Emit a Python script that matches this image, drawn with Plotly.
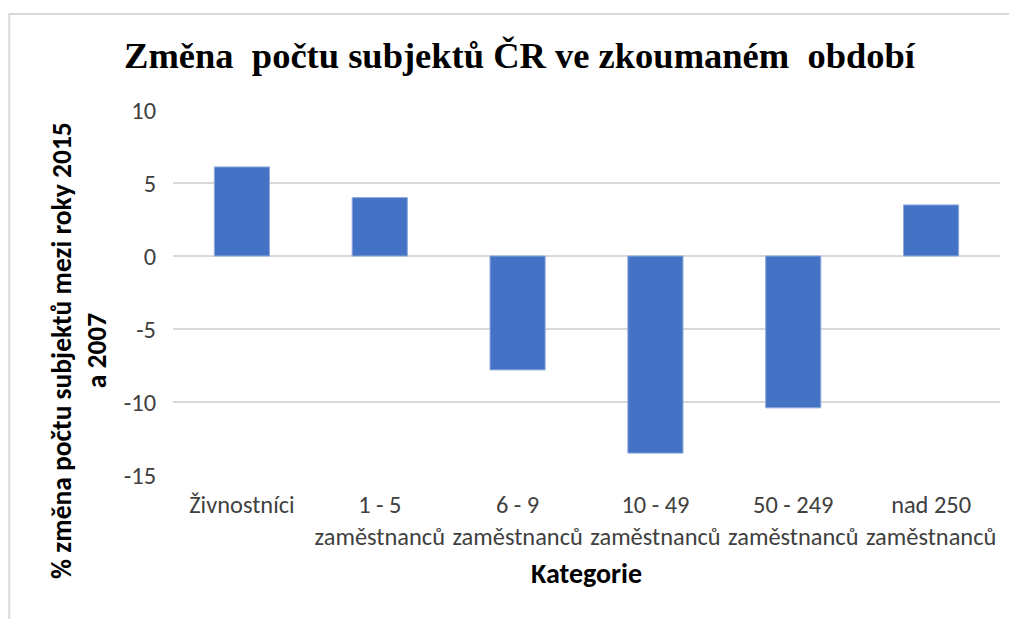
import plotly.graph_objects as go

categories = ["Živnostníci", "1 - 5<br>zaměstnanců", "6 - 9<br>zaměstnanců",
              "10 - 49<br>zaměstnanců", "50 - 249<br>zaměstnanců", "nad 250<br>zaměstnanců"]
values = [6.1, 4.0, -7.8, -13.5, -10.4, 3.5]
y_ticks = [10, 5, 0, -5, -10, -15]

title_text = "Změna  počtu subjektů ČR ve zkoumaném  období"
y_title = "% změna počtu subjektů mezi roky 2015<br>a 2007"
x_title = "Kategorie"

sans = "Carlito, Calibri, Liberation Sans, Arial, sans-serif"

fig = go.Figure()
fig.add_trace(go.Bar(
    x=categories, y=values,
    marker=dict(color="#4472C4", line=dict(color="#8EA9DB", width=1)),
))

fig.update_layout(
    width=1017, height=619,
    margin=dict(l=165, r=25, t=102, b=152),
    paper_bgcolor="white", plot_bgcolor="white",
    showlegend=False,
    bargap=0.6,
    title=dict(text=title_text, x=0.503, xref="container", xanchor="center",
               y=0.923, yref="container", yanchor="middle",
               font=dict(family="Liberation Serif, Times New Roman, serif", size=36.5,
                         color="black", weight="bold")),
    xaxis=dict(showgrid=False, showline=False, zeroline=False,
               ticks="", ticklabelstandoff=13,
               tickfont=dict(family=sans, size=24.4, color="#404040"),
               title=dict(text=x_title, standoff=12,
                          font=dict(family=sans, size=28, color="black", weight="bold"))),
    yaxis=dict(range=[-15, 10], tickvals=y_ticks, ticktext=[str(v) for v in y_ticks],
               showgrid=True, gridcolor="#D9D9D9", gridwidth=1.5,
               zeroline=True, zerolinecolor="#D9D9D9", zerolinewidth=1.5,
               showline=False, ticks="", ticklabelstandoff=16,
               tickfont=dict(family=sans, size=24.4, color="#404040")),
    shapes=[dict(type="rect", xref="paper", yref="paper",
                 x0=-0.198, x1=1.04, y0=-0.45, y1=1.263,
                 line=dict(color="#D9D9D9", width=2), fillcolor="rgba(0,0,0,0)", layer="below")],
    annotations=[dict(text=y_title, xref="paper", yref="paper", x=-0.114, y=0.342,
                      xanchor="center", yanchor="middle", textangle=-90, showarrow=False,
                      font=dict(family=sans, size=27.5, color="black", weight="bold"))],
)

fig.write_html("out.html")
